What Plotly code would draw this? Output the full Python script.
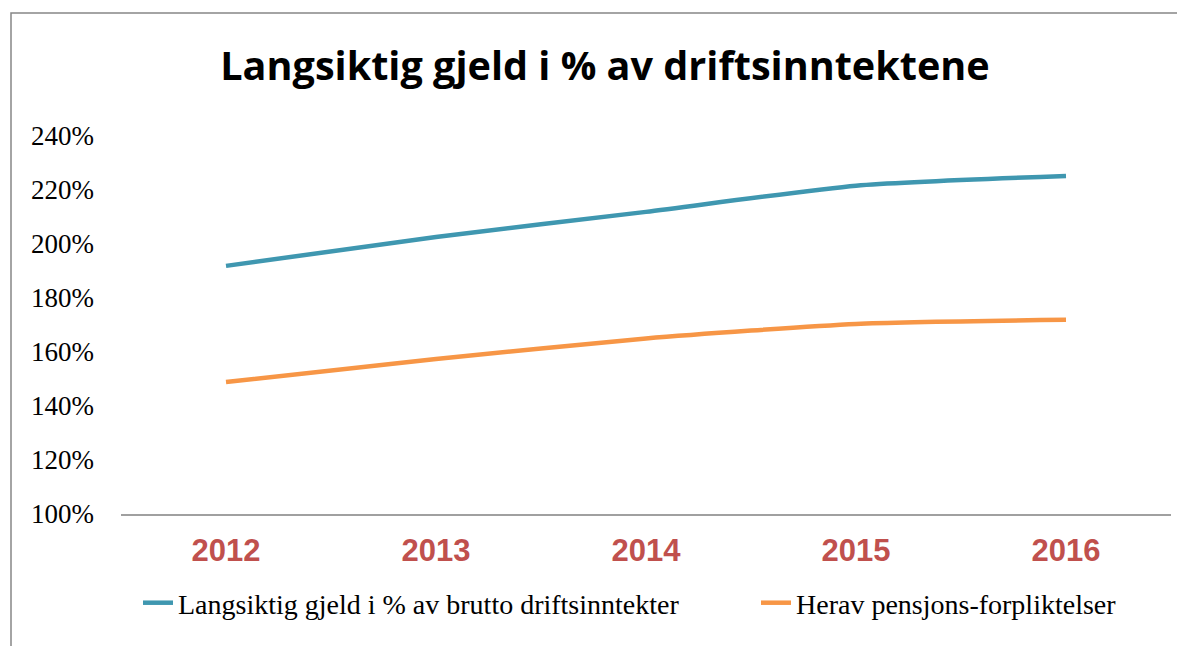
import plotly.graph_objects as go

years = ["2012", "2013", "2014", "2015", "2016"]
gjeld = [191.9, 202.6, 211.9, 221.6, 225.2]
pensjon = [148.9, 157.4, 165.0, 170.4, 171.9]
name_gjeld = "Langsiktig gjeld i % av brutto driftsinntekter"
name_pensjon = "Herav pensjons-forpliktelser"
title_text = "Langsiktig gjeld i % av driftsinntektene"
y_ticks = [100, 120, 140, 160, 180, 200, 220, 240]
y_labels = [f"{v}%" for v in y_ticks]

OFF = 8  # page body margin
W, H = 1185 - OFF, 646 - OFF
# desired page coordinates of plot area
PL, PR, PT, PB = 121, 1171, 136, 514
L, T = PL - OFF, PT - OFF
R = W - (PR - OFF)
B = H - (PB - OFF)

fig = go.Figure()
fig.add_trace(go.Scatter(x=years, y=gjeld, name=name_gjeld, mode="lines", legend="legend",
                         line=dict(color="#3F97B0", width=4.5, shape="spline", smoothing=0.6)))
fig.add_trace(go.Scatter(x=years, y=pensjon, name=name_pensjon, mode="lines", legend="legend2",
                         line=dict(color="#F79646", width=4.5, shape="spline", smoothing=0.6)))

pw = PR - PL
ph = PB - PT
def px2paper_x(px):
    return (px - PL) / pw
def px2paper_y(py):
    return (PB - py) / ph

legend_font = dict(family="Liberation Serif", size=28, color="black")
fig.update_layout(
    width=W, height=H,
    margin=dict(l=L, r=R, t=T, b=B, autoexpand=False),
    paper_bgcolor="white", plot_bgcolor="white",
    title=dict(text=f"<b>{title_text}</b>", x=(605 - OFF) / W, xanchor="center",
               y=1 - (66 - OFF) / H, yanchor="middle",
               font=dict(family="Open Sans", size=39.6, color="black")),
    legend=dict(orientation="h", x=px2paper_x(138), xanchor="left",
                y=px2paper_y(603), yanchor="middle", font=legend_font,
                bgcolor="rgba(0,0,0,0)"),
    legend2=dict(orientation="h", x=px2paper_x(756), xanchor="left",
                 y=px2paper_y(603), yanchor="middle", font=legend_font,
                 bgcolor="rgba(0,0,0,0)"),
    showlegend=True,
    shapes=[dict(type="rect", xref="paper", yref="paper",
                 x0=px2paper_x(11), x1=px2paper_x(1183),
                 y0=px2paper_y(700), y1=px2paper_y(13),
                 line=dict(color="#868686", width=1.5), fillcolor="rgba(0,0,0,0)", layer="below")],
)
fig.update_xaxes(type="category", range=[-0.5, 4.5], showline=True, linecolor="#A0A0A0",
                 linewidth=1.5, showgrid=False, ticks="", ticklabelstandoff=8,
                 tickfont=dict(family="Liberation Sans", size=31, color="#C0504D", weight="bold"))
fig.update_yaxes(range=[100, 240], tickmode="array", tickvals=y_ticks, ticktext=y_labels,
                 showgrid=False, showline=False, zeroline=False, ticks="",
                 ticklabelstandoff=26,
                 tickfont=dict(family="Liberation Serif", size=27, color="black"))

fig.write_html("out.html")
